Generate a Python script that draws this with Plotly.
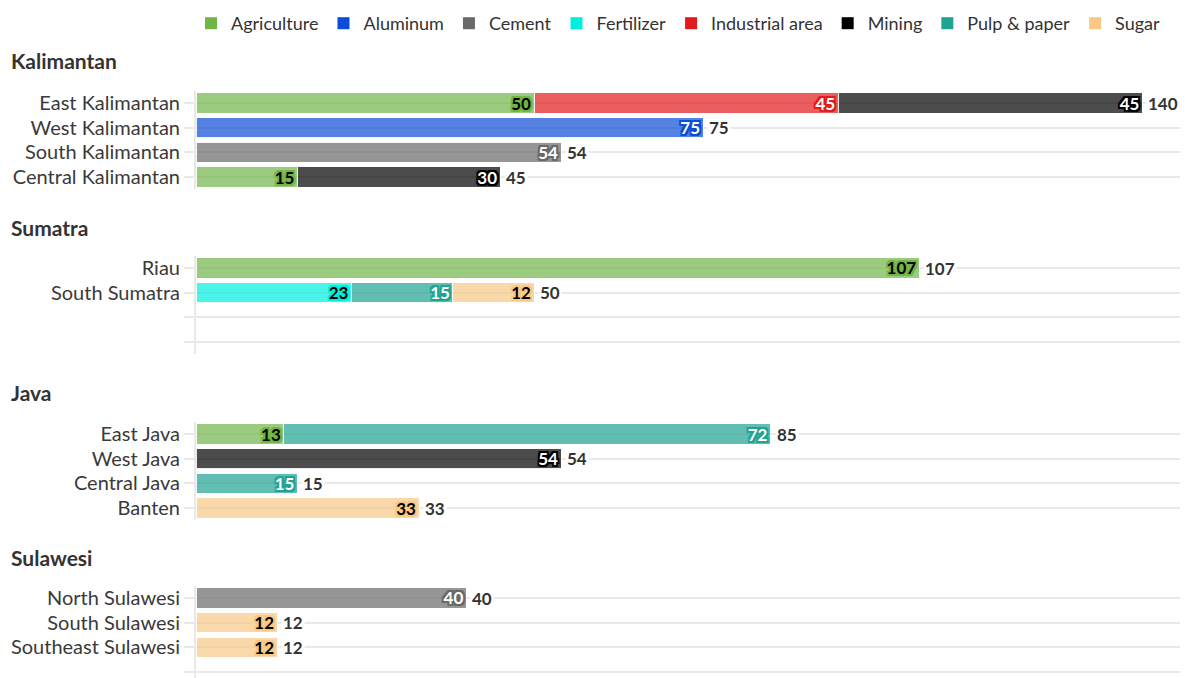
import plotly.graph_objects as go
from plotly.subplots import make_subplots

W, H = 1185, 678

# ---------------- data ----------------
series = ["Agriculture", "Aluminum", "Cement", "Fertilizer",
          "Industrial area", "Mining", "Pulp & paper", "Sugar"]
series_colors = ["#71b547", "#0c4cd6", "#696969", "#00eee0",
                 "#e31a1c", "#000000", "#1fa393", "#f7c984"]
label_colors = ["#000000", "#ffffff", "#ffffff", "#000000",
                "#ffffff", "#ffffff", "#ffffff", "#000000"]

groups = ["Kalimantan", "Sumatra", "Java", "Sulawesi"]

kalimantan_regions = ["East Kalimantan", "West Kalimantan", "South Kalimantan", "Central Kalimantan"]
kalimantan_values = {
    "Agriculture": [50, None, None, 15],
    "Aluminum": [None, 75, None, None],
    "Cement": [None, None, 54, None],
    "Industrial area": [45, None, None, None],
    "Mining": [45, None, None, 30],
}

sumatra_regions = ["Riau", "South Sumatra", "", ""]
sumatra_values = {
    "Agriculture": [107, None, None, None],
    "Fertilizer": [None, 23, None, None],
    "Pulp & paper": [None, 15, None, None],
    "Sugar": [None, 12, None, None],
}

java_regions = ["East Java", "West Java", "Central Java", "Banten"]
java_values = {
    "Agriculture": [13, None, None, None],
    "Mining": [None, 54, None, None],
    "Pulp & paper": [72, None, 15, None],
    "Sugar": [None, None, None, 33],
}

sulawesi_regions = ["North Sulawesi", "South Sulawesi", "Southeast Sulawesi", ""]
sulawesi_values = {
    "Cement": [40, None, None, None],
    "Sugar": [None, 12, 12, None],
}

group_regions = [kalimantan_regions, sumatra_regions, java_regions, sulawesi_regions]
group_values = [kalimantan_values, sumatra_values, java_values, sulawesi_values]

# ---------------- layout constants ----------------
FONT = "Source Sans Pro, Lato, Roboto, sans-serif"
GRID = "#e9e9e9"
TEXT = "#333333"
ROW = 24.67                       # px per row slot
first_row_px = [103, 268, 434, 598]
header_px = [61, 227, 392, 557]
x_left_px, x_right_px = 196, 1180
px_per_unit = 6.76


def rgba(hexc, a):
    hexc = hexc.lstrip("#")
    r, g, b = int(hexc[0:2], 16), int(hexc[2:4], 16), int(hexc[4:6], 16)
    return f"rgba({r},{g},{b},{a})"


def halo(c, d=2):
    parts = []
    for dx in (-d, 0, d):
        for dy in (-d, 0, d):
            if dx or dy:
                parts.append(f"{dx}px {dy}px 0 {c}")
    return ", ".join(parts)


fig = make_subplots(rows=4, cols=1, shared_xaxes=True, vertical_spacing=0.02)

# legend-only entries (full colour swatches, fixed order)
for si, s in enumerate(series):
    fig.add_trace(go.Bar(
        x=[None], y=[None], orientation="h", name=s, legendgroup=s,
        showlegend=True, legendrank=si + 1,
        marker=dict(color=series_colors[si], line=dict(width=0)),
        hoverinfo="skip",
    ), row=1, col=1)

for gi, (regions, values) in enumerate(zip(group_regions, group_values)):
    row = gi + 1
    ypos = list(range(len(regions)))
    for si, s in enumerate(series):
        if s not in values:
            continue
        vals = values[s]
        c = series_colors[si]
        fig.add_trace(go.Bar(
            x=vals, y=ypos, orientation="h", name=s,
            legendgroup=s, showlegend=False,
            marker=dict(color=rgba(c, 0.7), line=dict(color="rgba(255,255,255,0.9)", width=1)),
            text=[str(v) if v is not None else "" for v in vals],
            textposition="inside", insidetextanchor="end", textangle=0,
            constraintext="none",
            textfont=dict(family=FONT, size=17, color=label_colors[si],
                          weight="bold", shadow=halo(c, 2)),
            hoverinfo="x+name",
        ), row=row, col=1)
    # totals
    xref = "x" if row == 1 else f"x{row}"
    yref = "y" if row == 1 else f"y{row}"
    for ri in range(len(regions)):
        t = sum((values[s][ri] or 0) for s in values)
        if t <= 0:
            continue
        fig.add_annotation(
            x=t, y=ri, xref=xref, yref=yref, text=f"<b>{t}</b>",
            xanchor="left", yanchor="middle", xshift=4, showarrow=False,
            bgcolor="white", borderpad=1,
            font=dict(family=FONT, size=17, color=TEXT),
        )

xmax = (x_right_px - x_left_px) / px_per_unit
for gi in range(4):
    row = gi + 1
    top_px = first_row_px[gi] - ROW / 2
    bot_px = min(top_px + 4 * ROW, H)
    bottom_val = -0.5 + (bot_px - top_px) / ROW
    fig.update_yaxes(
        domain=[1 - bot_px / H, 1 - top_px / H],
        range=[bottom_val, -0.5],
        tickvals=list(range(4)), ticktext=group_regions[gi],
        showgrid=True, gridcolor=GRID, gridwidth=2,
        ticks="outside", ticklen=10, tickcolor=GRID, tickwidth=2,
        showline=True, linecolor=GRID, linewidth=2,
        zeroline=False, fixedrange=True,
        tickfont=dict(family=FONT, size=20, color="#3a3a3a"),
        row=row, col=1,
    )
    fig.update_xaxes(
        domain=[x_left_px / W, x_right_px / W], range=[0, xmax],
        showgrid=False, zeroline=False, showticklabels=False,
        showline=False, ticks="", fixedrange=True,
        row=row, col=1,
    )
    fig.add_annotation(
        text=f"<b>{groups[gi]}</b>", xref="paper", yref="paper",
        x=9 / W, y=1 - header_px[gi] / H, xanchor="left", yanchor="middle",
        showarrow=False, font=dict(family=FONT, size=21, color=TEXT),
    )

fig.update_layout(
    width=W, height=H, barmode="stack", bargap=0.18,
    margin=dict(l=0, r=0, t=0, b=0, autoexpand=False),
    paper_bgcolor="white", plot_bgcolor="white",
    font=dict(family=FONT, color=TEXT),
    legend=dict(orientation="h", x=1166 / W, xanchor="right",
                y=1 - 5 / H, yanchor="top", traceorder="normal",
                font=dict(family=FONT, size=18, color=TEXT),
                itemwidth=30, bgcolor="rgba(0,0,0,0)"),
)
for ax in fig.layout:
    if ax.startswith("yaxis") or ax.startswith("xaxis"):
        fig.layout[ax].automargin = False

fig.write_html("out.html")
